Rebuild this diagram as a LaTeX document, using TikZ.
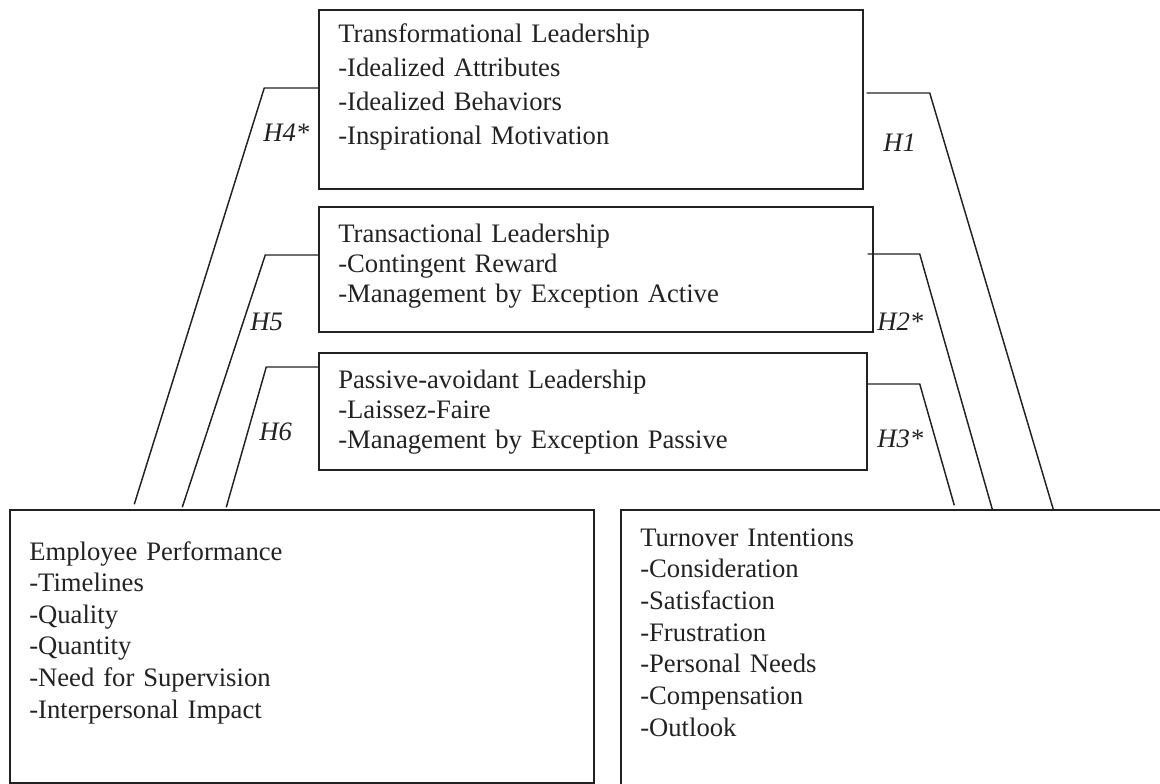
\documentclass[tikz,border=0pt]{standalone}
\usepackage{fontspec}
\setmainfont{Liberation Serif}
\usetikzlibrary{calc}
\definecolor{ink}{HTML}{222222}
\begin{document}
\begin{tikzpicture}[x=0.75pt,y=-0.75pt,
  box/.style={draw=ink, line width=1.1pt, inner sep=0pt, rectangle},
  link/.style={draw=ink, line width=1.1pt},
  body/.style={anchor=base west, inner sep=0pt, text=ink, align=left},
  hyp/.style={anchor=base west, inner sep=0pt, text=ink,
    font=\fontsize{20}{24}\selectfont\itshape}]
\useasboundingbox (0,0) rectangle (1160,784);
\clip (0,0) rectangle (1160,784);

% leadership styles
\node[box, minimum width=408pt, minimum height=134.25pt] (t1) at (591,99.5) {};
\node[box, minimum width=415.5pt, minimum height=93.75pt] (t2) at (596,269.5) {};
\node[box, minimum width=411pt, minimum height=87.75pt] (t3) at (593,411.5) {};

% outcomes
\node[box, minimum width=438pt, minimum height=204.75pt] (ep) at (302,646.5) {};
\node[box, minimum width=415.5pt, minimum height=217.5pt] (ti) at (898,655) {};

% box contents
\node[body, text width=300pt, font=\fontsize{20}{25.5}\selectfont] (t1txt) at (338,43)
  {Transformational Leadership\\-Idealized Attributes\\-Idealized Behaviors\\-Inspirational Motivation};
\node[body, text width=300pt, font=\fontsize{20}{22.5}\selectfont] (t2txt) at (338,243)
  {Transactional Leadership\\-Contingent Reward\\-Management by Exception Active};
\node[body, text width=300pt, font=\fontsize{20}{22.5}\selectfont] (t3txt) at (338,388)
  {Passive-avoidant Leadership\\-Laissez-Faire\\-Management by Exception Passive};
\node[body, text width=230pt, font=\fontsize{20}{23.7}\selectfont] (eptxt) at (29,560)
  {Employee Performance\\-Timelines\\-Quality\\-Quantity\\-Need for Supervision\\-Interpersonal Impact};
\node[body, text width=230pt, font=\fontsize{20}{23.75}\selectfont] (titxt) at (640,546)
  {Turnover Intentions\\-Consideration\\-Satisfaction\\-Frustration\\-Personal Needs\\-Compensation\\-Outlook};

% hypothesised paths to employee performance
\draw[link] ($(t1.west)+(0,-11.5)$) -- ++(-54,0) -- ($(ep.north west)+(125,-5)$);
\draw[link] ($(t2.west)+(0,-14.5)$) -- ++(-53,0) -- ($(ep.north west)+(173,-2)$);
\draw[link] ($(t3.west)+(0,-44.5)$) -- ++(-52,0) -- ($(ep.north west)+(217,-2)$);

% hypothesised paths to turnover intentions
\draw[link] ($(t1.east)+(3,-6.5)$) -- ++(63,0) -- ($(ti.north west)+(433,0)$);
\draw[link] ($(t2.east)+(-6,-15.5)$) -- ++(52,0) -- ($(ti.north west)+(372,0)$);
\draw[link] ($(t3.east)+(0,-27.5)$) -- ++(52,0) -- ($(ti.north west)+(334,-4)$);

% hypothesis labels
\node[hyp] (h4) at (263,142) {H4*};
\node[hyp] (h5) at (250,330) {H5};
\node[hyp] (h6) at (259,440) {H6};
\node[hyp] (h1) at (883,152) {H1};
\node[hyp] (h2) at (877,330) {H2*};
\node[hyp] (h3) at (877,447) {H3*};
\end{tikzpicture}
\end{document}
